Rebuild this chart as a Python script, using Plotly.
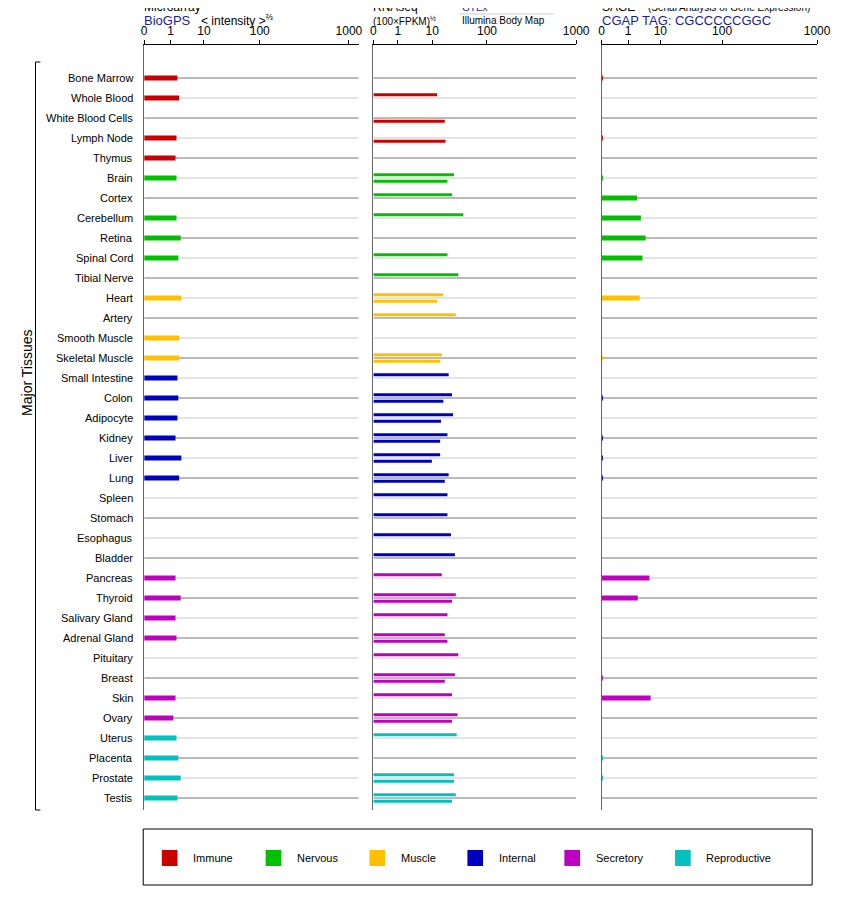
import math
import plotly.graph_objects as go

tissues = ["Bone Marrow", "Whole Blood", "White Blood Cells", "Lymph Node", "Thymus",
           "Brain", "Cortex", "Cerebellum", "Retina", "Spinal Cord", "Tibial Nerve",
           "Heart", "Artery", "Smooth Muscle", "Skeletal Muscle",
           "Small Intestine", "Colon", "Adipocyte", "Kidney", "Liver", "Lung", "Spleen",
           "Stomach", "Esophagus", "Bladder",
           "Pancreas", "Thyroid", "Salivary Gland", "Adrenal Gland", "Pituitary", "Breast",
           "Skin", "Ovary", "Uterus", "Placenta", "Prostate", "Testis"]
group_sizes = [5, 6, 4, 10, 8, 4]
group_names = ["Immune", "Nervous", "Muscle", "Internal", "Secretory", "Reproductive"]
group_colors = ["#cc0000", "#00c000", "#ffc000", "#0000c0", "#c000c0", "#00c0c0"]

N = None
microarray = [1.6, 1.8, N, 1.5, 1.4, 1.5, N, 1.5, 2.0, 1.7, N, 2.1, N, 1.8, 1.8,
              1.6, 1.7, 1.6, 1.4, 2.1, 1.8, N, N, N, N,
              1.4, 2.0, 1.4, 1.5, N, N, 1.4, 1.2, 1.5, 1.7, 2.0, 1.6]
gtex = [N, 12.3, N, N, N, 25, 23, 37, N, 19, 30, 16, 27, N, 15,
        20, 23, 24, 19, 14, 20, 19, 19, 22, 26,
        15, 27, 19, 17, 30, 26, 23, 29, 28, N, 25, 27]
bodymap = [N, N, 17, 17.5, N, 19, N, N, N, N, N, 12.3, N, N, 14,
           N, 16, 14.5, 14, 9.8, 17, N, N, N, N,
           N, 23, N, 19, N, 17, N, 23, N, N, 25, 23]
sage = [0.05, N, N, 0.05, N, 0.05, 1.9, 2.5, 3.5, 2.8, N, 2.3, N, N, 0.05,
        N, 0.05, N, 0.05, 0.05, 0.05, N, N, N, N,
        4.6, 2.0, N, N, N, 0.05, 5.0, N, N, 0.05, 0.05, N]

tick_vals = [0, 1, 10, 100, 1000]
tick_text = ["0", "1", "10", "100", "1000"]
# pixel positions of ticks per panel (the scales are non-linear)
micro_pos = [144, 171, 205, 262, 353]
rna_pos = [378, 403, 438, 494, 585]
sage_pos = [611, 638, 671, 734, 831]
panel_ranges = [(144, 363), (378, 585), (611, 831)]

# the page adds an 8px margin, so the figure is drawn inside it
OFF = 8
W, H = 842 - 2 * OFF, 900 - 2 * OFF


def px(x):
    return (x - OFF) / W


def py(y):
    return 1 - (y - OFF) / H


def tx(v, pos):
    if v <= 1:
        return pos[0] + v * (pos[1] - pos[0])
    k = min(int(math.floor(math.log10(v))), 2)
    f = math.log10(v) - k
    return pos[k + 1] + f * (pos[k + 2] - pos[k + 1])


colors = []
for c, n in zip(group_colors, group_sizes):
    colors += [c] * n

fig = go.Figure()


def add_bars(vals, pos, xa, ya, width, dy=0.0):
    for c in group_colors:
        xs, ys = [], []
        for i, v in enumerate(vals):
            if v is None or colors[i] != c:
                continue
            xs += [pos[0], tx(v, pos), None]
            ys += [i + dy, i + dy, None]
        if xs:
            fig.add_trace(go.Scatter(x=xs, y=ys, mode="lines", xaxis=xa, yaxis=ya,
                                     line=dict(color=c, width=width), showlegend=False,
                                     hoverinfo="skip"))


add_bars(microarray, micro_pos, "x", "y", 5)
add_bars(gtex, rna_pos, "x2", "y2", 3, -0.16)
add_bars(bodymap, rna_pos, "x2", "y2", 3, 0.16)
add_bars(sage, sage_pos, "x3", "y3", 5)

top_px, bot_px = 45, 810
yrange = [(bot_px - 78) / 20, (top_px - 78) / 20]
ydom = [py(bot_px), py(top_px)]

axis_common = dict(side="top", showline=True, linecolor="black", ticks="outside",
                   ticklen=4, tickcolor="black", showgrid=False, zeroline=False,
                   tickfont=dict(size=12, color="black"), fixedrange=True)
for k, (pos, rng) in enumerate(zip([micro_pos, rna_pos, sage_pos], panel_ranges)):
    sfx = "" if k == 0 else str(k + 1)
    fig.update_layout(**{
        "xaxis" + sfx: dict(axis_common, domain=[px(rng[0]), px(rng[1])], range=list(rng),
                            tickvals=pos, ticktext=tick_text, anchor="y" + sfx),
        "yaxis" + sfx: dict(domain=ydom, range=yrange, showline=True, linecolor="#666",
                            showticklabels=False, showgrid=False, zeroline=False,
                            anchor="x" + sfx, fixedrange=True),
    })
    for i in range(len(tissues)):
        fig.add_shape(type="line", xref="x" + sfx, yref="y" + sfx, x0=rng[0], x1=rng[1],
                      y0=i, y1=i, line=dict(color="#777" if i % 2 == 0 else "#c8c8c8", width=1),
                      layer="below")

for i, t in enumerate(tissues):
    fig.add_annotation(text=t, x=px(135), xref="paper", y=i, yref="y", xanchor="right",
                       showarrow=False, font=dict(size=11, color="black"))

# bracket
fig.add_shape(type="line", xref="paper", yref="paper", x0=px(33), x1=px(33),
              y0=py(62), y1=py(810), line=dict(color="black", width=1))
for yp in (62, 810):
    fig.add_shape(type="line", xref="paper", yref="paper", x0=px(33), x1=px(38),
                  y0=py(yp), y1=py(yp), line=dict(color="black", width=1))
fig.add_annotation(text="Major Tissues", x=px(14), y=py(373), xref="paper", yref="paper",
                   textangle=-90, showarrow=False, font=dict(size=14, color="black"))


def label(text, x, y, size=12, color="black"):
    fig.add_annotation(text=text, x=px(x), y=py(y), xref="paper", yref="paper",
                       xanchor="left", yanchor="middle", showarrow=False,
                       font=dict(size=size, color=color))


label("Microarray", 142, 7)
label("BioGPS", 142, 21, 13, "#1a1aa6")
label("&lt; intensity &gt;<sup>⅔</sup>", 200, 20, 12)
label("RNAseq", 376, 7)
label("(100×FPKM)<sup>½</sup>", 376, 21, 10)
label("GTEx", 466, 7, 10, "#1a1aa6")
label("Illumina Body Map", 466, 21, 10)
fig.add_shape(type="line", xref="paper", yref="paper", x0=px(466), x1=px(562),
              y0=py(14), y1=py(14), line=dict(color="#ccc", width=1))
label("SAGE", 609, 7)
label("(Serial Analysis of Gene Expression)", 656, 7, 10)
label("CGAP TAG: CGCCCCCGGC", 609, 21, 13, "#1a1aa6")

# legend box
fig.add_shape(type="rect", xref="paper", yref="paper", x0=px(143), x1=px(826),
              y0=py(829), y1=py(885), line=dict(color="black", width=1))
leg_x = [162, 268, 374, 474, 573, 686]
for x, name, c in zip(leg_x, group_names, group_colors):
    fig.add_shape(type="rect", xref="paper", yref="paper", x0=px(x), x1=px(x + 16),
                  y0=py(850), y1=py(866), line=dict(width=0), fillcolor=c)
    label(name, x + 30, 858, 11)

fig.update_layout(width=W, height=H, margin=dict(l=0, r=0, t=0, b=0),
                  plot_bgcolor="white", paper_bgcolor="white",
                  font=dict(family="Arial, Liberation Sans, sans-serif"))
fig.write_html("out.html")
